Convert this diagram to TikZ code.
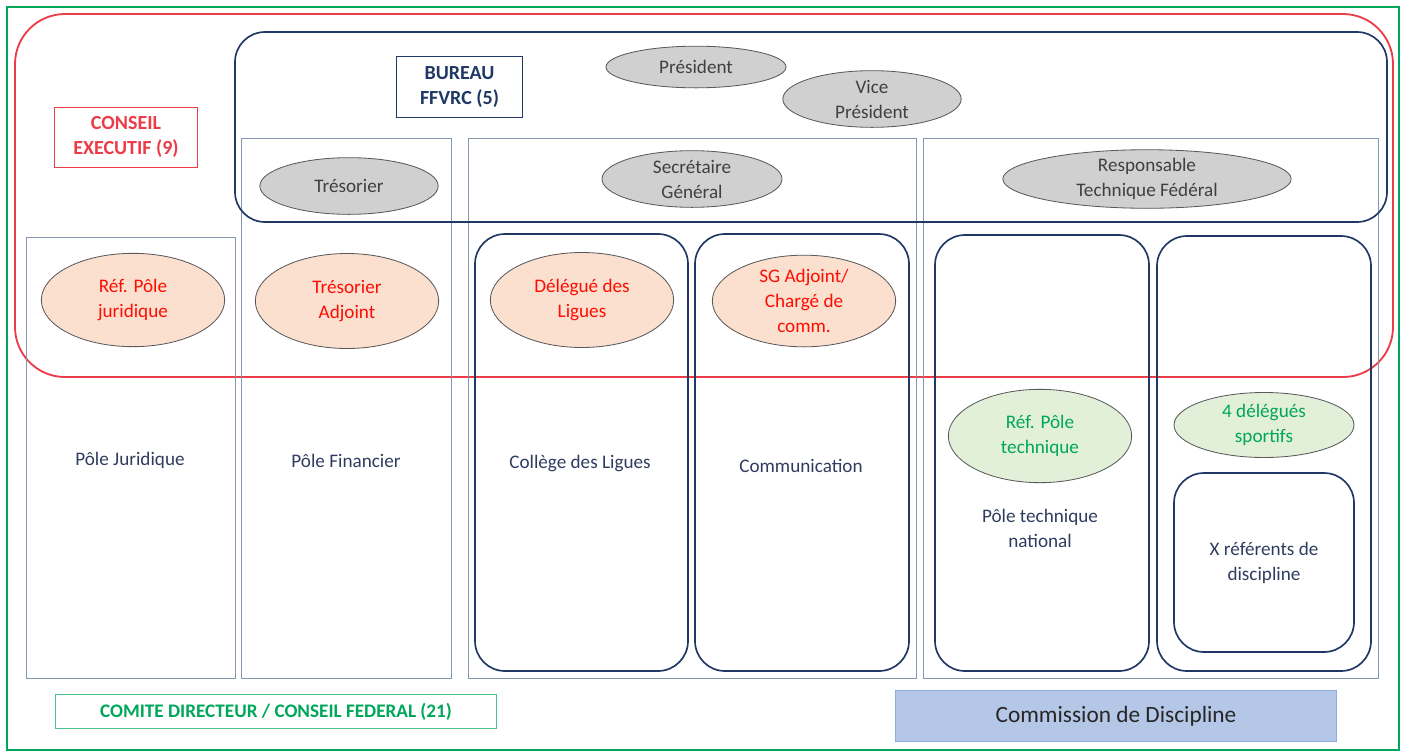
\documentclass[tikz,border=0pt]{standalone}
\usepackage{fontspec}
\setmainfont{Carlito}
\usepackage{tikz}
\usetikzlibrary{shapes.geometric}

\definecolor{cdgreen}{RGB}{0,166,90}
\definecolor{cered}{RGB}{236,60,72}
\definecolor{bunavy}{RGB}{31,56,100}
\definecolor{colgray}{RGB}{132,151,176}
\definecolor{txtnavy}{RGB}{47,60,95}
\definecolor{ellgray}{RGB}{208,208,208}
\definecolor{ellsalmon}{RGB}{251,224,208}
\definecolor{ellgreen}{RGB}{226,240,217}
\definecolor{discfill}{RGB}{180,199,231}
\definecolor{discline}{RGB}{143,170,220}

\begin{document}
\begin{tikzpicture}[x=0.6pt,y=-0.6pt,
    every node/.style={font=\fontsize{11.5pt}{15pt}\selectfont, align=center, inner sep=0pt},
    column/.style={draw=colgray, line width=0.6pt},
    pole/.style={draw=bunavy, line width=1pt, rounded corners=18pt},
    role/.style={ellipse, draw=gray!70!black, line width=0.5pt},
    bureaurole/.style={role, fill=ellgray, text=black!75},
    cerole/.style={role, fill=ellsalmon, text=red!90!orange},
    techrole/.style={role, fill=ellgreen, text=cdgreen},
    poletext/.style={text=txtnavy}]

    \useasboundingbox (0,0) rectangle (1405,753);

    % comite directeur, conseil executif
    \draw[cdgreen, line width=1.4pt] (7,7) rectangle (1399,750);
    \draw[cered, line width=1.1pt, rounded corners=30pt] (15,14) rectangle (1393,377);

    % poles
    \draw[column] (26,237) rectangle (235,678);
    \draw[column] (241,138) rectangle (451,678);
    \draw[column] (468,138) rectangle (916,678);
    \draw[column] (923,138) rectangle (1378,678);

    % bureau
    \draw[pole] (235,32) rectangle (1387,222);

    \draw[pole] (475,234) rectangle (688,671);
    \draw[pole] (695,234) rectangle (909,671);
    \draw[pole] (935,235) rectangle (1149,671);
    \draw[pole] (1157,236) rectangle (1371,671);
    \draw[pole] (1174,473) rectangle (1354,652);

    % titres
    \node[draw=bunavy, line width=0.6pt, text=bunavy, font=\bfseries\fontsize{12pt}{15pt}\selectfont,
          minimum width=76pt, minimum height=37pt] (bureau) at (459.5,87) {BUREAU\\FFVRC (5)};
    \node[draw=cered, line width=0.6pt, text=cered, font=\bfseries\fontsize{12pt}{15pt}\selectfont,
          minimum width=86pt, minimum height=36pt] (conseil) at (126,137) {CONSEIL\\EXECUTIF (9)};
    \node[draw=cdgreen!70, line width=0.6pt, text=cdgreen, font=\bfseries\fontsize{11.5pt}{14pt}\selectfont,
          minimum width=265pt, minimum height=20pt] (comite) at (276,711.5) {COMITE DIRECTEUR / CONSEIL FEDERAL (21)};
    \node[draw=discline, fill=discfill, line width=0.6pt, text=black!85, font=\fontsize{14pt}{16pt}\selectfont,
          minimum width=265pt, minimum height=31pt] (discipline) at (1116,716) {Commission de Discipline};

    % membres du bureau
    \node[bureaurole, minimum width=108pt, minimum height=25pt] (pres) at (696,67) {Président};
    \node[bureaurole, minimum width=107pt, minimum height=34pt] (vpres) at (872,99) {Vice\\Président};
    \node[bureaurole, minimum width=107pt, minimum height=34pt] (treso) at (349,186) {Trésorier};
    \node[bureaurole, minimum width=108pt, minimum height=34pt] (sg) at (692,179) {Secrétaire\\Général};
    \node[bureaurole, minimum width=173pt, minimum height=35pt] (rtf) at (1147,179) {Responsable\\Technique Fédéral};

    % conseil executif
    \node[cerole, minimum width=110pt, minimum height=56pt] (refjur) at (133,300) {Réf. Pôle\\juridique};
    \node[cerole, minimum width=110pt, minimum height=57pt] (tresadj) at (347,301) {Trésorier\\Adjoint};
    \node[cerole, minimum width=110pt, minimum height=57pt] (delig) at (582,300) {Délégué des\\Ligues};
    \node[cerole, minimum width=110pt, minimum height=55pt] (sgadj) at (804,301) {SG Adjoint/\\Chargé de\\comm.};

    % technique
    \node[techrole, minimum width=110pt, minimum height=56pt] (reftech) at (1040,436) {Réf. Pôle\\technique};
    \node[techrole, minimum width=108pt, minimum height=39pt] (delsport) at (1264,425) {4 délégués\\sportifs};

    % noms des poles
    \node[poletext] (juri) at (130,460) {Pôle Juridique};
    \node[poletext] (fin) at (346,461) {Pôle Financier};
    \node[poletext] (college) at (580,463) {Collège des Ligues};
    \node[poletext] (comm) at (801,466) {Communication};
    \node[poletext] (ptn) at (1040,528) {Pôle technique\\national};
    \node[poletext] (xref) at (1264,563) {X référents de\\discipline};
\end{tikzpicture}
\end{document}
